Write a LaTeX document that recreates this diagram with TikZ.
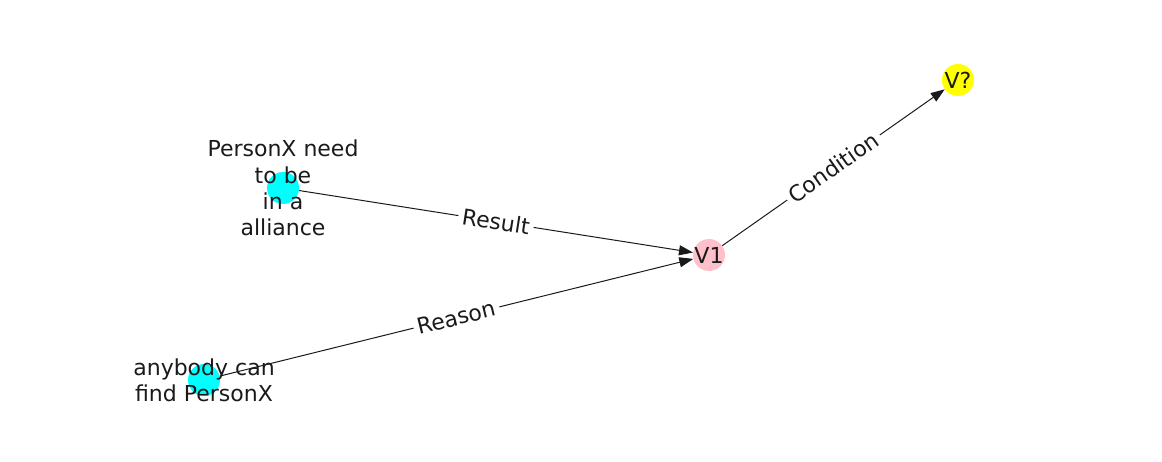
\documentclass[tikz,border=0pt]{standalone}
\usepackage{fontspec}
\setmainfont{DejaVu Sans}
\usetikzlibrary{arrows.meta}
\usetikzlibrary{positioning, quotes}
\definecolor{nodecyan}{RGB}{0,255,255}
\definecolor{nodepink}{RGB}{255,192,203}
\definecolor{nodeyellow}{RGB}{255,255,0}
\definecolor{inkgray}{RGB}{26,26,26}

\begin{document}
\begin{tikzpicture}[x=1pt, y=-1pt,
		every edge/.style = {draw, inkgray, line width=1pt, -{Triangle[length=14pt, width=10pt]}},
		every edge quotes/.style = {sloped, fill=white, inner sep=4pt, text=inkgray,
			font=\fontsize{22}{26.4}\selectfont}]
			\useasboundingbox (0,0) rectangle (1162,462);
			\begin{scope}[every node/.style={circle, minimum size=32pt, inner sep=0pt}]
				\node[fill=nodecyan] (personx) at (283,188) {};
				\node[fill=nodecyan] (anybody) at (204,380) {};
				\node[fill=nodepink] (v1) at (709,255) {};
				\node[fill=nodeyellow] (vq) at (958,80) {};
			\end{scope}
			
			\draw (personx) edge["Result"] (v1)
			(anybody) edge["Reason"] (v1)
			(v1) edge["Condition"] (vq);
			
			\begin{scope}[every node/.style={align=center, text=inkgray, inner sep=0pt,
					font=\fontsize{22}{26.4}\selectfont}]
				\node (personxtext) at (personx.center) {PersonX need\\to be\\in a\\alliance};
				\node (anybodytext) at (anybody.center) {anybody can\\find PersonX};
				\node (v1text) at (v1.center) {V1};
				\node (vqtext) at (vq.center) {V?};
			\end{scope}
		\end{tikzpicture}
\end{document}
